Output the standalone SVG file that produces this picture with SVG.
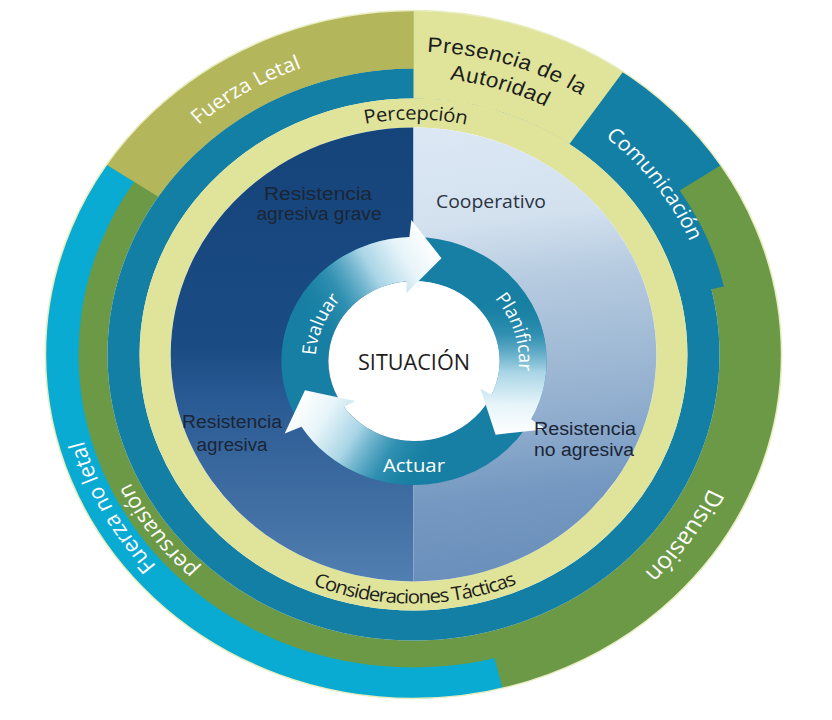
<svg xmlns="http://www.w3.org/2000/svg" xmlns:xlink="http://www.w3.org/1999/xlink" width="832" height="720" viewBox="0 0 832 720">
<style>
.wt{fill:#ffffff;font-family:"Open Sans","DejaVu Sans",sans-serif}
.dk{fill:#1d1d1d;font-family:"Open Sans","DejaVu Sans",sans-serif}
.ar{fill:#1d1d1d;font-family:"Liberation Sans",Arial,sans-serif}
.lbl{fill:#1b2535;font-family:"Liberation Sans",Arial,sans-serif;font-size:18px}
.arrow{fill:url(#arrowGrad)}
</style>
<defs>
<linearGradient id="leftGrad" gradientUnits="userSpaceOnUse" x1="0" y1="-227" x2="0" y2="227">
<stop offset="0" stop-color="#15447a"/>
<stop offset="0.48" stop-color="#1a4b83"/>
<stop offset="0.6" stop-color="#2a5a93"/>
<stop offset="0.72" stop-color="#36659c"/>
<stop offset="0.88" stop-color="#4573a7"/>
<stop offset="1" stop-color="#527fb1"/>
</linearGradient>
<linearGradient id="rightGrad" gradientUnits="userSpaceOnUse" x1="0" y1="-227" x2="60" y2="227">
<stop offset="0" stop-color="#dce8f4"/>
<stop offset="0.22" stop-color="#d3e1ef"/>
<stop offset="0.36" stop-color="#b6cbe0"/>
<stop offset="0.5" stop-color="#a4bdd7"/>
<stop offset="0.65" stop-color="#93afcf"/>
<stop offset="0.82" stop-color="#7498c1"/>
<stop offset="1" stop-color="#6a8fba"/>
</linearGradient>
<linearGradient id="arrowGrad" gradientUnits="userSpaceOnUse" x1="-95.85" y1="-34.89" x2="25.64" y2="-102.85">
<stop offset="0" stop-color="#17809f" stop-opacity="0"/>
<stop offset="0.28" stop-color="#3a96b7" stop-opacity="0.75"/>
<stop offset="0.55" stop-color="#a9d5e6"/>
<stop offset="0.78" stop-color="#e6f4f9"/>
<stop offset="1" stop-color="#ffffff"/>
</linearGradient>
<path id="tpFL" d="M-300.90,-49.82 A305,305 0 0 1 101.31,-287.68"/>
<path id="tpP1" d="M-165.95,-253.54 A303,303 0 0 1 278.50,-119.36"/>
<path id="tpP2" d="M-151.71,-231.78 A277,277 0 0 1 254.60,-109.12"/>
<path id="tpCom" d="M14.27,-281.64 A282,282 0 0 1 274.88,62.96"/>
<path id="tpDis" d="M297.35,-76.35 A307,307 0 0 1 23.55,306.09"/>
<path id="tpFNL" d="M-63.80,313.57 A320,320 0 0 1 -297.73,-117.28"/>
<path id="tpPer" d="M-18.46,293.42 A294,294 0 0 1 -285.76,-69.13"/>
<path id="tpPerc" d="M-178.70,-152.62 A235,235 0 0 1 181.33,-149.48"/>
<path id="tpCons" d="M-215.20,125.25 A249,249 0 0 0 216.10,123.75"/>
<path id="tpEva" d="M-81.75,42.20 A92,92 0 0 1 -27.36,-87.84"/>
<path id="tpPla" d="M38.29,-90.21 A98,98 0 0 1 82.19,53.37"/>
</defs>

<g id="diagram" transform="translate(413.5,354.5) scale(1.07,1)">
  <g id="disuasion">
    <circle r="315" fill="none" stroke="#6b9946" stroke-width="58"/>
  </g>
  <g id="ring-teal">
    <circle r="271" fill="none" stroke="#147fa5" stroke-width="30"/>
  </g>
  <g id="fuerza-no-letal">
    <path d="M-286.86,-189.87 A344,344 0 0 0 83.22,333.78 L75.72,303.70 A313,313 0 0 1 -261.01,-172.76 Z" fill="#0aabd2"/>
  </g>
  <g id="fuerza-letal">
    <path d="M0,-344 A344,344 0 0 0 -286.86,-189.87 L-238.49,-157.85 A286,286 0 0 1 0,-286 Z" fill="#b4b65c"/>
  </g>
  <g id="comunicacion">
    <path d="M195.83,-282.82 A344,344 0 0 1 287.19,-189.37 L248.79,-164.04 A298,298 0 0 1 290.13,-68.05 L249.24,-58.46 A256,256 0 0 0 145.74,-210.47 Z" fill="#147fa5"/>
  </g>
  <g id="presencia">
    <path d="M195.83,-282.82 A344,344 0 0 0 0,-344 L0,-256 A256,256 0 0 1 145.74,-210.47 Z" fill="#dfe49a"/>
  </g>
  <g id="ring-yellow">
    <circle r="241.5" fill="none" stroke="#dfe49a" stroke-width="29"/>
  </g>
  <circle r="344" fill="none" stroke="#e8eec0" stroke-width="1.5"/>
  <g id="quadrants">
    <path d="M0,-227 A227,227 0 0 0 0,227 Z" fill="url(#leftGrad)"/>
    <path d="M0,-227 A227,227 0 0 1 0,227 Z" fill="url(#rightGrad)"/>
  </g>

  <g id="outer-labels">
    <text class="wt" font-size="20"><textPath xlink:href="#tpFL" href="#tpFL" startOffset="50%" text-anchor="middle">Fuerza Letal</textPath></text>
    <text class="ar" font-size="21" letter-spacing="0.5"><textPath xlink:href="#tpP1" href="#tpP1" startOffset="50%" text-anchor="middle">Presencia de la</textPath></text>
    <text class="ar" font-size="21" letter-spacing="0.5"><textPath xlink:href="#tpP2" href="#tpP2" startOffset="50%" text-anchor="middle">Autoridad</textPath></text>
    <text class="wt" font-size="20"><textPath xlink:href="#tpCom" href="#tpCom" startOffset="50%" text-anchor="middle">Comunicación</textPath></text>
    <text class="wt" font-size="23"><textPath xlink:href="#tpDis" href="#tpDis" startOffset="50%" text-anchor="middle">Disuasión</textPath></text>
    <text class="wt" font-size="21"><textPath xlink:href="#tpFNL" href="#tpFNL" startOffset="50%" text-anchor="middle">Fuerza no letal</textPath></text>
    <text class="wt" font-size="21"><textPath xlink:href="#tpPer" href="#tpPer" startOffset="50%" text-anchor="middle">persuasión</textPath></text>
    <text class="dk" font-size="19" font-weight="500" letter-spacing="-0.3"><textPath xlink:href="#tpPerc" href="#tpPerc" startOffset="50%" text-anchor="middle">Percepción</textPath></text>
    <text class="dk" font-size="19" font-weight="500" letter-spacing="-1.1"><textPath xlink:href="#tpCons" href="#tpCons" startOffset="50%" text-anchor="middle">Consideraciones Tácticas</textPath></text>
  </g>

  <g id="situacion-ring" transform="translate(0.47,6.5)">
    <circle r="102" fill="none" stroke="#167fa3" stroke-width="44"/>
    <circle r="80" fill="#ffffff"/>
    <g id="connectors">
      <path class="arrow" d="M-116.52,-42.41 A124,124 0 0 1 -4.33,-123.92 L-2.46,-140.98 L25.64,-102.85 L-7.11,-67.63 L-6.97,-79.70 A80,80 0 0 0 -75.18,-27.36 Z"/>
      <path class="arrow" transform="rotate(120)" d="M-116.52,-42.41 A124,124 0 0 1 -4.33,-123.92 L-2.46,-140.98 L25.64,-102.85 L-7.11,-67.63 L-6.97,-79.70 A80,80 0 0 0 -75.18,-27.36 Z"/>
      <path class="arrow" transform="rotate(240)" d="M-116.52,-42.41 A124,124 0 0 1 -4.33,-123.92 L-2.46,-140.98 L25.64,-102.85 L-7.11,-67.63 L-6.97,-79.70 A80,80 0 0 0 -75.18,-27.36 Z"/>
    </g>
    <text class="wt" font-size="18" font-weight="500"><textPath xlink:href="#tpEva" href="#tpEva" startOffset="50%" text-anchor="middle">Evaluar</textPath></text>
    <text class="wt" font-size="18" font-weight="500"><textPath xlink:href="#tpPla" href="#tpPla" startOffset="50%" text-anchor="middle">Planificar</textPath></text>
  </g>
</g>

<g id="actuar"><text class="wt" x="414" y="472" font-size="19" font-weight="500" text-anchor="middle" textLength="62" lengthAdjust="spacingAndGlyphs">Actuar</text></g>
<g id="situacion"><text class="dk" x="414" y="370" font-size="21" text-anchor="middle" textLength="112" lengthAdjust="spacingAndGlyphs" fill="#222">SITUACIÓN</text></g>

<g id="q-agresiva-grave">
  <text class="lbl" x="318" y="200" text-anchor="middle" textLength="108" lengthAdjust="spacingAndGlyphs">Resistencia</text>
  <text class="lbl" x="319" y="220" text-anchor="middle" textLength="125" lengthAdjust="spacingAndGlyphs">agresiva grave</text>
</g>
<g id="q-cooperativo">
  <text x="491" y="208" font-family="Open Sans, DejaVu Sans, sans-serif" font-size="18" fill="#2b3441" text-anchor="middle" textLength="110" lengthAdjust="spacingAndGlyphs">Cooperativo</text>
</g>
<g id="q-agresiva">
  <text class="lbl" x="232" y="428" text-anchor="middle" textLength="100" lengthAdjust="spacingAndGlyphs">Resistencia</text>
  <text class="lbl" x="232" y="451" text-anchor="middle" textLength="71" lengthAdjust="spacingAndGlyphs">agresiva</text>
</g>
<g id="q-no-agresiva">
  <text class="lbl" x="585" y="435" text-anchor="middle" textLength="102" lengthAdjust="spacingAndGlyphs">Resistencia</text>
  <text class="lbl" x="584" y="456" text-anchor="middle" textLength="100" lengthAdjust="spacingAndGlyphs">no agresiva</text>
</g>
</svg>
